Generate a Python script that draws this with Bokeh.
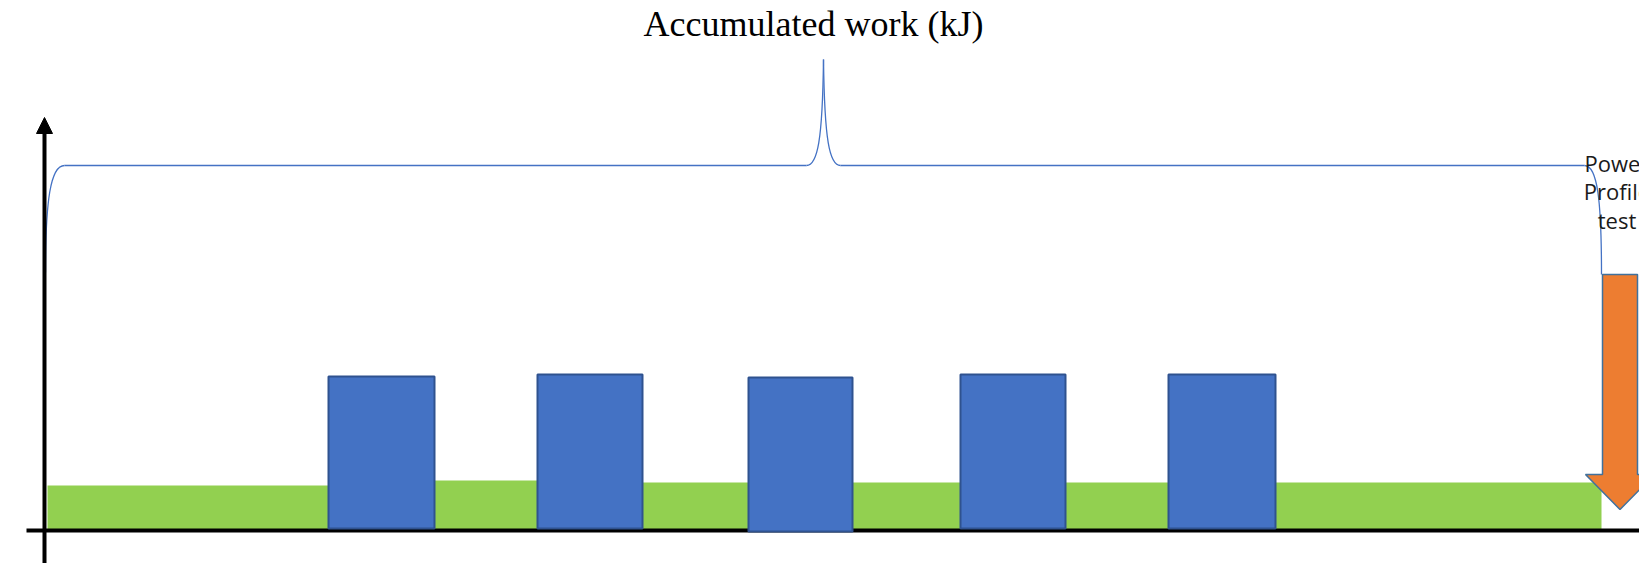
from bokeh.plotting import figure
from bokeh.models import ColumnDataSource, Range1d, Arrow, NormalHead
from bokeh.core.properties import value
from bokeh.embed import file_html
from bokeh.resources import INLINE

# Timeline of the protocol (x: time units, y: power level units)
rest_start = [3, 390, 598, 808, 1021, 1231]
rest_end = [284, 493, 704, 916, 1124, 1557]
rest_level = [45, 50, 48, 48, 48, 48]

load_start = [284, 493, 704, 916, 1124]
load_end = [390, 598, 808, 1021, 1231]
load_level = [154, 156, 153, 156, 156]
load_floor = [2, 2, -1, 2, 2]

title_text = "Accumulated work (kJ)"
test_lines = ["Power", "Profile", "test"]
test_line_y = [368, 340, 311]
test_time = 1575.5
test_top = 256
test_tip = 21

GREEN = "#92D050"
BLUE = "#4472C4"
BLUE_EDGE = "#2F528F"
ORANGE = "#ED7D31"

p = figure(width=1639, height=563, output_backend="svg", toolbar_location=None,
           x_range=Range1d(-44, 1595), y_range=Range1d(-33, 530),
           x_axis_type=None, y_axis_type=None, min_border=0,
           background_fill_color="white", border_fill_color="white")
p.outline_line_color = None
p.xgrid.visible = False
p.ygrid.visible = False

# low-intensity (rest) phases
rest = ColumnDataSource(dict(left=rest_start, right=rest_end, top=rest_level,
                             bottom=[0] * len(rest_start)))
p.quad(left="left", right="right", top="top", bottom="bottom", source=rest,
       fill_color=GREEN, line_color=None)

# horizontal time axis
p.segment(x0=[-18], y0=[0], x1=[1600], y1=[0], line_color="black", line_width=4)

# high-intensity bouts
load = ColumnDataSource(dict(left=load_start, right=load_end, top=load_level,
                             bottom=load_floor))
p.quad(left="left", right="right", top="top", bottom="bottom", source=load,
       fill_color=BLUE, line_color=BLUE_EDGE, line_width=2)

# vertical axis with arrow head
p.add_layout(Arrow(end=NormalHead(size=16, fill_color="black", line_color="black", line_width=1),
                   x_start=0, y_start=-40, x_end=0, y_end=413,
                   line_color="black", line_width=4))

# curly brace spanning the whole protocol
b_left = rest_start[0] - 2
b_right = rest_end[-1]
b_mid = (b_left + b_right) / 2.0
b_level, b_peak, b_foot = 365, 471, 258
# left hook, middle cusp (two halves), right hook
p.bezier(x0=[b_left, b_mid - 17, b_mid, b_right - 17],
         y0=[b_foot, b_level, b_peak, b_level],
         x1=[b_left + 19, b_mid, b_mid + 17, b_right],
         y1=[b_level, b_peak, b_level, b_foot - 2],
         cx0=[b_left, b_mid - 6, b_mid + 1, b_right - 4],
         cy0=[b_foot + 72, b_level, b_peak - 81, b_level],
         cx1=[b_left + 5, b_mid - 1, b_mid + 6, b_right],
         cy1=[b_level, b_level + 25, b_level, b_level - 35],
         line_color=BLUE, line_width=1.3)
p.segment(x0=[b_left + 19, b_mid + 17], y0=[b_level, b_level],
          x1=[b_mid - 17, b_right - 17], y1=[b_level, b_level],
          line_color=BLUE, line_width=1.3)

# final test arrow
sw, hw, hl = 17.5, 34.5, 35
ax = [test_time - sw, test_time + sw, test_time + sw, test_time + hw,
      test_time, test_time - hw, test_time - sw]
ay = [test_top, test_top, test_tip + hl, test_tip + hl, test_tip, test_tip + hl, test_tip + hl]
p.patch(ax, ay, fill_color=ORANGE, line_color="#41719C", line_width=1.5)

p.text(x=[test_time - 3] * len(test_lines), y=test_line_y, text=test_lines,
       text_align="center", text_baseline="middle", text_font=value("Open Sans"),
       text_font_size="22px", text_color="#1a1a1a")

p.text(x=[b_mid - 10], y=[507], text=[title_text], text_align="center",
       text_baseline="middle", text_font=value("Liberation Serif"),
       text_font_size="36px", text_color="black")

open("out.html", "w").write(file_html(p, INLINE))
